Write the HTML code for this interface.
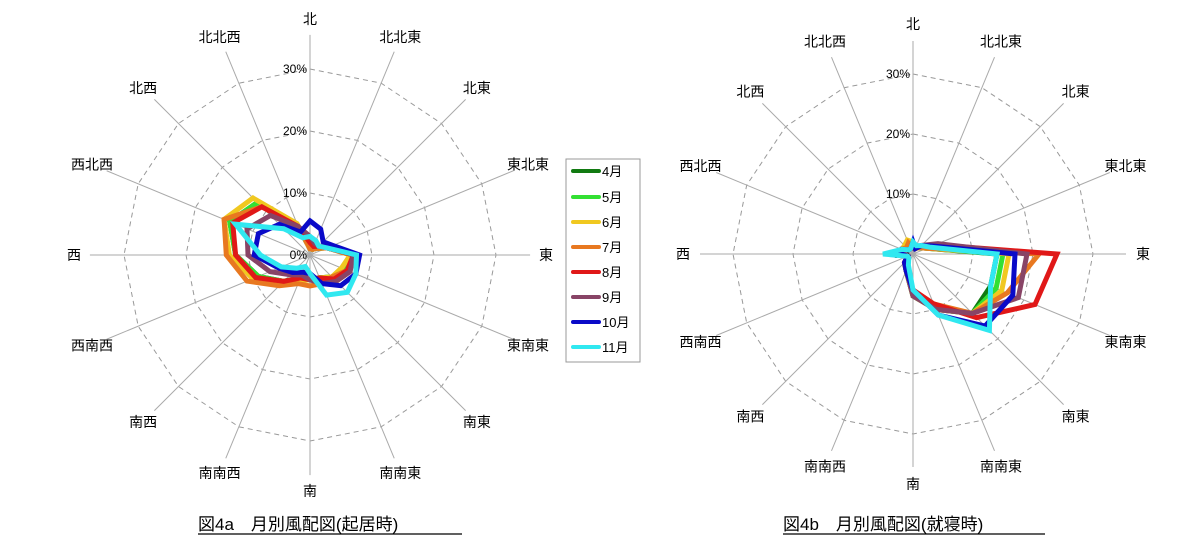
<!DOCTYPE html>
<html><head><meta charset="utf-8"><style>
body{margin:0;background:#fff;width:1201px;height:541px;overflow:hidden}
svg text{font-family:"Liberation Sans","Noto Sans CJK JP",sans-serif;fill:#000}
</style></head><body>
<svg id="s" width="1201" height="541" xmlns="http://www.w3.org/2000/svg">
<rect x="566" y="159" width="74" height="203" fill="#fff" stroke="#999" stroke-width="1"/>
<g stroke-width="4" stroke-linecap="round">
<line x1="573" y1="171" x2="599" y2="171" stroke="#117a11"/>
<line x1="573" y1="197" x2="599" y2="197" stroke="#33e033"/>
<line x1="573" y1="222" x2="599" y2="222" stroke="#f0c820"/>
<line x1="573" y1="247" x2="599" y2="247" stroke="#e87820"/>
<line x1="573" y1="272" x2="599" y2="272" stroke="#e01818"/>
<line x1="573" y1="297" x2="599" y2="297" stroke="#884466"/>
<line x1="573" y1="322" x2="599" y2="322" stroke="#0a0ac8"/>
<line x1="573" y1="347" x2="599" y2="347" stroke="#30e8f0"/>
</g>
<g font-size="13">
<text x="602" y="176">4月</text><text x="602" y="202">5月</text><text x="602" y="227">6月</text><text x="602" y="252">7月</text>
<text x="602" y="277">8月</text><text x="602" y="302">9月</text><text x="602" y="327">10月</text><text x="602" y="352">11月</text>
</g>
<text x="198" y="530" font-size="17">図4a　月別風配図(起居時)</text>
<line x1="198" y1="534" x2="462" y2="534" stroke="#000" stroke-width="1.2"/>
<text x="783" y="530" font-size="17">図4b　月別風配図(就寝時)</text>
<line x1="783" y1="534" x2="1045" y2="534" stroke="#000" stroke-width="1.2"/>
</svg>
<script>
var s=document.getElementById('s'),NS='http://www.w3.org/2000/svg';
function el(t,a,txt){var e=document.createElementNS(NS,t);for(var k in a)e.setAttribute(k,a[k]);if(txt)e.textContent=txt;s.appendChild(e);return e;}
var names=['北','北北東','北東','東北東','東','東南東','南東','南南東','南','南南西','南西','西南西','西','西北西','北西','北北西'];
var cols=['#117a11','#33e033','#f0c820','#e87820','#e01818','#884466','#0a0ac8','#30e8f0'];
function chart(cx,cy,sc,lr,data){
  for(var r=1;r<=3;r++){var pts=[];for(var i=0;i<16;i++){var a=i*Math.PI/8;pts.push((cx+Math.sin(a)*r*sc).toFixed(1)+','+(cy-Math.cos(a)*r*sc).toFixed(1));}
    el('polygon',{points:pts.join(' '),fill:'none',stroke:'#999','stroke-dasharray':'5,4','stroke-width':1});}
  for(var i=0;i<16;i++){var a=i*Math.PI/8;
    el('line',{x1:cx,y1:cy,x2:cx+Math.sin(a)*sc*3.55,y2:cy-Math.cos(a)*sc*3.55,stroke:'#aaa','stroke-width':1});
    el('text',{x:cx+Math.sin(a)*lr,y:cy-Math.cos(a)*lr+5,'font-size':14,'text-anchor':'middle'},names[i]);}
  for(var r=0;r<=3;r++)el('text',{x:cx-3,y:cy-r*sc+4,'font-size':12,'text-anchor':'end'},(r*10)+'%');
  data.forEach(function(d,j){var pts=[];for(var i=0;i<16;i++){var a=i*Math.PI/8;pts.push((cx+Math.sin(a)*d[i]*sc/10).toFixed(1)+','+(cy-Math.cos(a)*d[i]*sc/10).toFixed(1));}
    el('polygon',{points:pts.join(' '),fill:'none',stroke:cols[j],'stroke-width':5,'stroke-linejoin':'miter'});});
}
chart(310,255,62,236,[
 [1,1,1.5,3,7,6,5,4,4,4,6,9,12,14,12,5],
 [1,1,1.5,3,7,6,5,4,4,4,6,9,12,14,12,5],
 [1,1,1.5,3,6.5,5.5,5,4,4,4.5,6,10,13,15,13,5.5],
 [1,1,1.5,3,7,6.5,5,5,5,5,7,11,13.5,15,11,5],
 [2,1.5,2,3,7,6.5,5.5,4,4,4,6,9.5,12,13.5,11,5],
 [3,2,2,3.5,7,7,6,5,4,3.5,4.5,7,10,11,9,5],
 [5.5,4.5,3,4,8,8,7,5,3,3,4,5.5,9,9,7,4],
 [3,2.5,2,3,7.5,8,8.5,7,3,2,3,5,8,13,6,3]
]);
chart(913,254,60,230,[
 [1,1,1.5,2.5,14,14,14,10,7,3,2,1,2,2,1.5,2],
 [1,1,1.5,2.5,15,15,14,10,7,3,2,1,2,2,1.5,2],
 [2,1,1.5,2.5,16,16,14,10,7,3,2,1,2,2,2,2.5],
 [1,1,1.5,2.5,21,17,14,9,6,3,2,1,2,2,1.5,2],
 [1,1,2,4,24,22,15,9,6,3,2,1,1.5,1.5,1,1],
 [1.5,1,2,4.5,19,19,14,10,7,3,2,1,1.5,1.5,1,1],
 [2,1,2,3.5,17,18,17,11,6,3,2,1,2,2,1,1],
 [2,1.5,2,3,14,14,18,11,6,2,1,1,5,2,1,1]
]);
</script>
</body></html>
